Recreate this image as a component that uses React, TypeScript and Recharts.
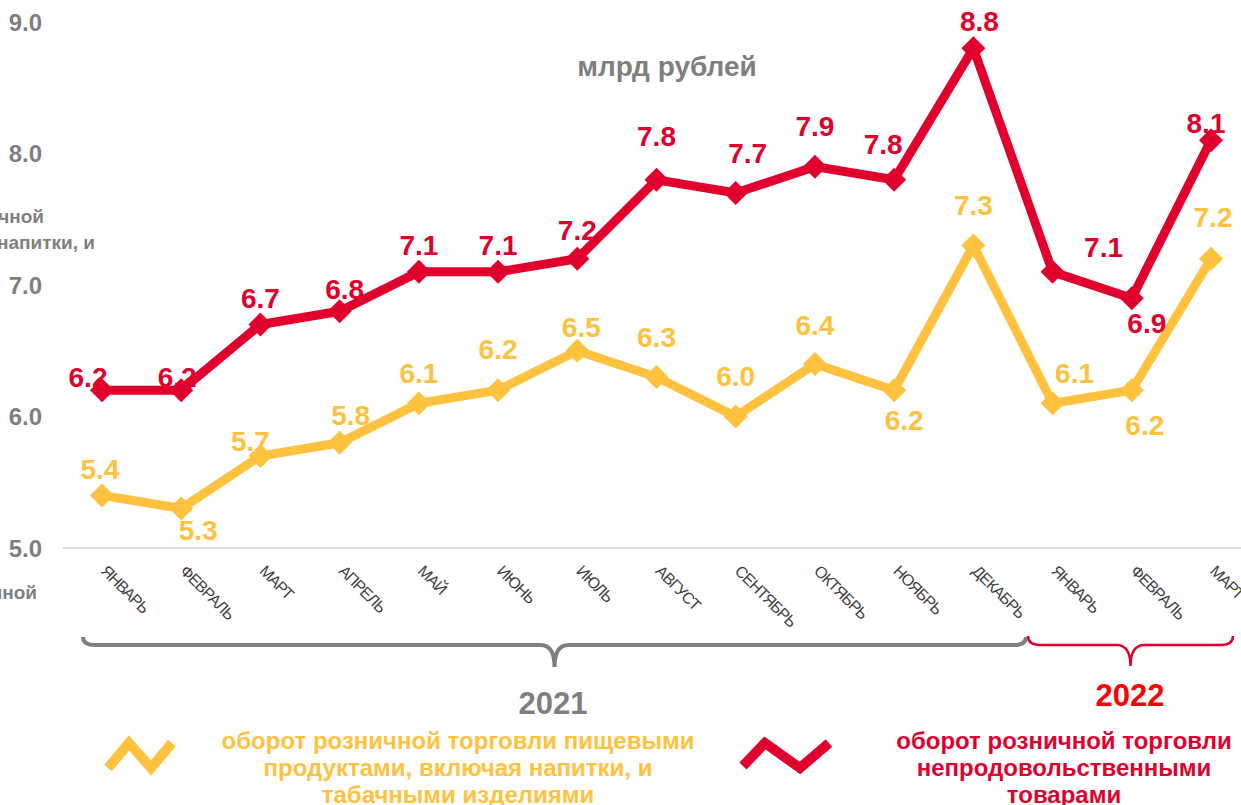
import { LineChart, Line, XAxis, YAxis, LabelList } from 'recharts';

const MONTHS = ['ЯНВАРЬ', 'ФЕВРАЛЬ', 'МАРТ', 'АПРЕЛЬ', 'МАЙ', 'ИЮНЬ', 'ИЮЛЬ', 'АВГУСТ', 'СЕНТЯБРЬ', 'ОКТЯБРЬ', 'НОЯБРЬ', 'ДЕКАБРЬ', 'ЯНВАРЬ', 'ФЕВРАЛЬ', 'МАРТ'];
const FOOD = [5.4, 5.3, 5.7, 5.8, 6.1, 6.2, 6.5, 6.3, 6.0, 6.4, 6.2, 7.3, 6.1, 6.2, 7.2];
const NONFOOD = [6.2, 6.2, 6.7, 6.8, 7.1, 7.1, 7.2, 7.8, 7.7, 7.9, 7.8, 8.8, 7.1, 6.9, 8.1];
const Y_TICKS = [5, 6, 7, 8, 9];

// hand placed value labels in the original: [dx, dy] of the label centre from its marker
const FOOD_LABEL_NUDGE = [
  [-2, -26], [17, 22], [-10, -14], [11, -27], [0, -30], [0, -41], [4, -23], [0, -40],
  [0, -40], [0, -38], [10, 30], [0, -40], [22, -30], [13, 35], [2, -41],
];
const NONFOOD_LABEL_NUDGE = [
  [-14, -13], [-4, -13], [0, -26], [5, -22], [0, -26], [0, -26], [0, -28], [0, -43],
  [12, -39], [0, -40], [-11, -35], [6, -27], [51, -24], [15, 25], [-5, -17],
];

const FOOD_NAME = ['оборот розничной торговли пищевыми', 'продуктами, включая напитки, и', 'табачными изделиями'];
const NONFOOD_NAME = ['оборот розничной торговли', 'непродовольственными', 'товарами'];
const UNIT = 'млрд рублей';
const YEARS = ['2021', '2022'];

const RED = '#E1002D';
const YELLOW = '#FFC23E';
const GREY = '#7F7F7F';
const FONT = '"Liberation Sans", Arial, sans-serif';
const NARROW = '"Liberation Sans Narrow", "Arial Narrow", "Liberation Sans", sans-serif';

const W = 1241;
const H = 805;

const data = MONTHS.map((m, i) => ({ key: i, month: m, food: FOOD[i], nonfood: NONFOOD[i] }));

const diamond = (color: string) => (props: any) => {
  const { cx, cy, index } = props;
  if (cx == null || cy == null) return <g key={index} />;
  const r = 12;
  return (
    <path key={index} d={`M${cx},${cy - r} L${cx + r},${cy} L${cx},${cy + r} L${cx - r},${cy} Z`} fill={color} />
  );
};

const valueLabel = (color: string, nudge: number[][]) => (props: any) => {
  const { x, y, value, index } = props;
  const [dx, dy] = nudge[index] || [0, -26];
  return (
    <text
      key={index}
      x={x + dx}
      y={y + dy}
      textAnchor="middle"
      dominantBaseline="central"
      fill={color}
      fontSize={28}
      fontWeight={700}
      fontFamily={FONT}
    >
      {Number(value).toFixed(1)}
    </text>
  );
};

function MonthTick(props: any) {
  const { x, y, payload } = props;
  const tx = x - 2;
  const ty = y + 16;
  return (
    <text
      x={tx}
      y={ty}
      transform={`rotate(45 ${tx} ${ty})`}
      fontSize={16}
      fill="#404040"
      fontFamily={FONT}
      letterSpacing={-0.9}
    >
      {MONTHS[payload.value]}
    </text>
  );
}

function brace(x1: number, x2: number, top: number, line: number, tip: number) {
  const mid = (x1 + x2) / 2;
  return `M${x1},${top} Q${x1},${line} ${x1 + 12},${line} L${mid - 14},${line} Q${mid},${line} ${mid},${tip} Q${mid},${line} ${mid + 14},${line} L${x2 - 12},${line} Q${x2},${line} ${x2},${top}`;
}

export default function App() {
  return (
    <div style={{ position: 'absolute', left: 0, top: 0, width: W, height: H, overflow: 'hidden', background: '#fff' }}>
      <LineChart width={W} height={H} data={data} margin={{ top: 22, right: 0, bottom: 227, left: 0 }}>
        <XAxis
          dataKey="key"
          type="category"
          scale="point"
          padding={{ left: 39, right: 30 }}
          height={30}
          axisLine={{ stroke: '#D9D9D9', strokeWidth: 2 }}
          tickLine={false}
          tick={<MonthTick />}
          interval={0}
        />
        <YAxis
          domain={[5, 9]}
          ticks={Y_TICKS}
          width={63}
          axisLine={false}
          tickLine={false}
          tickMargin={15}
          tickFormatter={(v: number) => v.toFixed(1)}
          tick={{ fontSize: 24, fontWeight: 700, fill: GREY, fontFamily: FONT }}
        />
        <Line
          dataKey="food"
          type="linear"
          stroke={YELLOW}
          strokeWidth={9}
          dot={diamond(YELLOW)}
          activeDot={false}
          isAnimationActive={false}
        >
          <LabelList dataKey="food" content={valueLabel(YELLOW, FOOD_LABEL_NUDGE)} />
        </Line>
        <Line
          dataKey="nonfood"
          type="linear"
          stroke={RED}
          strokeWidth={9}
          dot={diamond(RED)}
          activeDot={false}
          isAnimationActive={false}
        >
          <LabelList dataKey="nonfood" content={valueLabel(RED, NONFOOD_LABEL_NUDGE)} />
        </Line>
      </LineChart>

      <svg width={W} height={H} style={{ position: 'absolute', left: 0, top: 0, pointerEvents: 'none' }}>
        <text x={667} y={66} textAnchor="middle" dominantBaseline="central" fontSize={28} fontWeight={700} fill={GREY} fontFamily={FONT}>
          {UNIT}
        </text>

        {/* cut-off text peeking in from the left edge */}
        <g fontSize={19} fontWeight={700} fill={GREY} fontFamily={FONT} textAnchor="end">
          <text x={44} y={223}>оборот розничной</text>
          <text x={95} y={249}>продуктами, включая напитки, и</text>
          <text x={37} y={599}>оборот розничной</text>
        </g>

        <path d={brace(83, 1026, 637, 645, 667)} fill="none" stroke={GREY} strokeWidth={4} />
        <path d={brace(1028, 1233, 636, 645, 666)} fill="none" stroke={RED} strokeWidth={2.5} />
        <text x={553} y={714} textAnchor="middle" fontSize={31} fontWeight={700} fill={GREY} fontFamily={NARROW}>
          {YEARS[0]}
        </text>
        <text x={1130} y={706} textAnchor="middle" fontSize={31} fontWeight={700} fill="#FF0000" fontFamily={NARROW}>
          {YEARS[1]}
        </text>

        <polyline points="108,768 129,743 151,768 172,743" fill="none" stroke={YELLOW} strokeWidth={10} />
        <polyline points="743,766 765,743 800,768 829,743" fill="none" stroke={RED} strokeWidth={10} />
        <g fontSize={24} fontWeight={700} fontFamily={NARROW} textAnchor="middle">
          {FOOD_NAME.map((t, i) => (
            <text key={t} x={458} y={749 + i * 27} fill={YELLOW}>
              {t}
            </text>
          ))}
          {NONFOOD_NAME.map((t, i) => (
            <text key={t} x={1064} y={749 + i * 27} fill={RED}>
              {t}
            </text>
          ))}
        </g>
      </svg>
    </div>
  );
}
